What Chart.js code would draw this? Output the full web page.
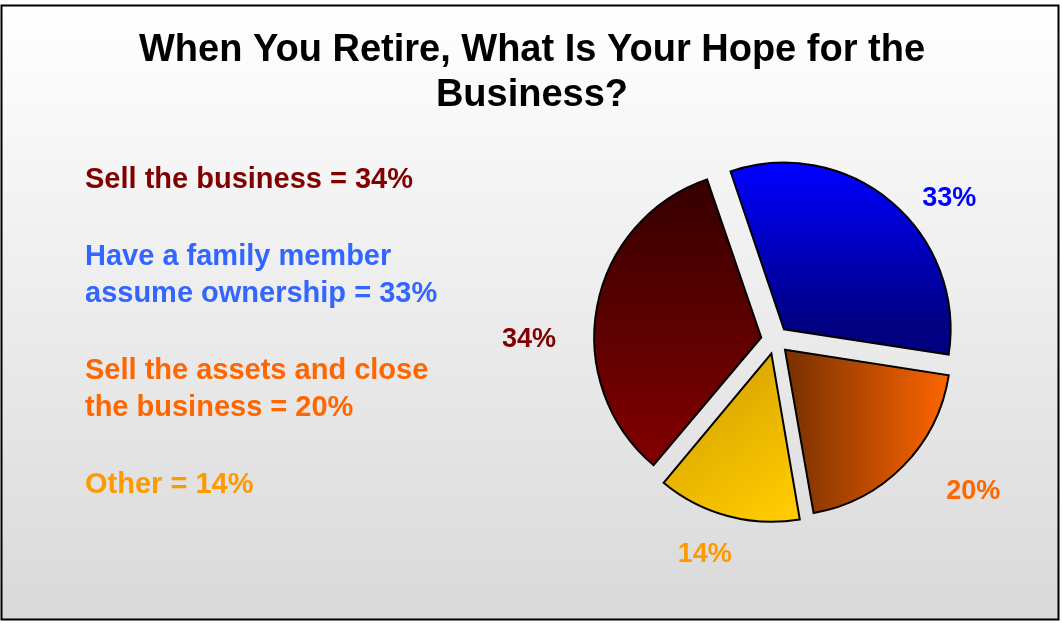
<!DOCTYPE html>
<html>
<head>
<meta charset="utf-8">
<script src="https://cdn.jsdelivr.net/npm/chart.js@4/dist/chart.umd.min.js"></script>
<style>
  html, body { margin: 0; padding: 0; background: #fff; }
</style>
</head>
<body>
<canvas id="chart-area" width="1062" height="623"></canvas>
<script>
const titleLines = ['When You Retire, What Is Your Hope for the', 'Business?'];
const categories = [
  ['Sell the business'],
  ['Have a family member', 'assume ownership'],
  ['Sell the assets and close', 'the business'],
  ['Other']
];
const shares = [34, 33, 20, 14];
const textColors = ['#800000', '#3366ff', '#ff6600', '#ff9900'];
const valueColors = ['#800000', '#0000ff', '#ff6600', '#ff9900'];
// start / end colour of each slice fill
const sliceShades = [
  ['#330000', '#800000'],
  ['#0000ff', '#000080'],
  ['#803300', '#ff6600'],
  ['#cc9900', '#ffcc00']
];
// small tweaks so the % labels sit where they read best: angle (deg), extra distance (px)
const labelNudge = [-10.4, 8.7, -5.2, 1.9];
const labelPush = [7, -7, 17, 2];

const PIE_RADIUS = 165;
const EXPLODE = 14; // px each slice is pulled out
const FONT = '"Liberation Sans", Arial, sans-serif';

function sliceFill(context) {
  const chart = context.chart;
  const area = chart.chartArea;
  const i = context.dataIndex;
  const shade = sliceShades[i];
  if (!area) return shade[1];
  const cx = (area.left + area.right) / 2;
  const cy = (area.top + area.bottom) / 2;
  const r = PIE_RADIUS;
  const g = chart.ctx;
  let grad;
  if (i === 0) grad = g.createLinearGradient(0, cy - r, 0, cy + r * 0.7);
  else if (i === 1) grad = g.createLinearGradient(0, cy - r, 0, cy);
  else if (i === 2) grad = g.createLinearGradient(cx + 10, 0, cx + r, 0);
  else grad = g.createLinearGradient(cx - r * 0.7, cy, cx + 10, cy + r);
  grad.addColorStop(0, shade[0]);
  grad.addColorStop(1, shade[1]);
  return grad;
}

// background, frame, title and the text key on the left
const panel = {
  id: 'panel',
  beforeDraw(chart) {
    const ctx = chart.ctx;
    ctx.save();
    ctx.fillStyle = '#fff';
    ctx.fillRect(0, 0, chart.width, chart.height);
    const bg = ctx.createLinearGradient(0, 5, 0, 620);
    bg.addColorStop(0, '#ffffff');
    bg.addColorStop(1, '#d9d9d9');
    ctx.fillStyle = bg;
    ctx.fillRect(1, 5, 1058, 615);
    ctx.lineWidth = 2;
    ctx.strokeStyle = '#000';
    ctx.strokeRect(1.5, 5.5, 1057, 614);

    ctx.fillStyle = '#000';
    ctx.font = 'bold 38px ' + FONT;
    ctx.textAlign = 'center';
    ctx.textBaseline = 'alphabetic';
    titleLines.forEach((line, k) => ctx.fillText(line, 532, 61 + k * 45));

    ctx.font = 'bold 29px ' + FONT;
    ctx.textAlign = 'left';
    let y = 188;
    categories.forEach((lines, i) => {
      ctx.fillStyle = textColors[i];
      lines.forEach((line, k) => {
        const txt = k === lines.length - 1 ? line + ' = ' + shares[i] + '%' : line;
        ctx.fillText(txt, 85, y);
        if (k < lines.length - 1) y += 37;
      });
      y += 77;
    });
    ctx.restore();
  }
};

// percentage labels outside each slice
const outsideLabels = {
  id: 'outsideLabels',
  afterDatasetsDraw(chart) {
    const ctx = chart.ctx;
    const meta = chart.getDatasetMeta(0);
    ctx.save();
    ctx.font = 'bold 27px ' + FONT;
    ctx.textAlign = 'center';
    ctx.textBaseline = 'middle';
    meta.data.forEach((arc, i) => {
      const p = arc.getProps(['x', 'y', 'startAngle', 'endAngle', 'outerRadius'], true);
      const mid = (p.startAngle + p.endAngle) / 2 + labelNudge[i] * Math.PI / 180;
      const txt = shares[i] + '%';
      const w = ctx.measureText(txt).width;
      const cos = Math.cos(mid), sin = Math.sin(mid);
      const d = p.outerRadius + EXPLODE + 33 + labelPush[i];
      const x = p.x + cos * d + cos * w / 2;
      const y = p.y + sin * d + sin * 10;
      ctx.fillStyle = valueColors[i];
      ctx.fillText(txt, x, y);
    });
    ctx.restore();
  }
};

let ctx = document.getElementById('chart-area').getContext('2d');
window.hopeChart = new Chart(ctx, {
  type: 'pie',
  data: {
    labels: categories,
    datasets: [{
      data: shares,
      backgroundColor: sliceFill,
      borderColor: '#000',
      borderWidth: 2,
      borderJoinStyle: 'miter',
      offset: EXPLODE * 4, // arc elements move by offset / 4
      radius: PIE_RADIUS
    }]
  },
  options: {
    responsive: false,
    animation: false,
    devicePixelRatio: 1,
    rotation: -140,
    layout: {
      padding: { left: 506, right: 18, top: 144, bottom: 87 }
    },
    plugins: {
      legend: { display: false },
      title: { display: false },
      tooltip: { enabled: false }
    }
  },
  plugins: [panel, outsideLabels]
});
</script>
</body>
</html>
